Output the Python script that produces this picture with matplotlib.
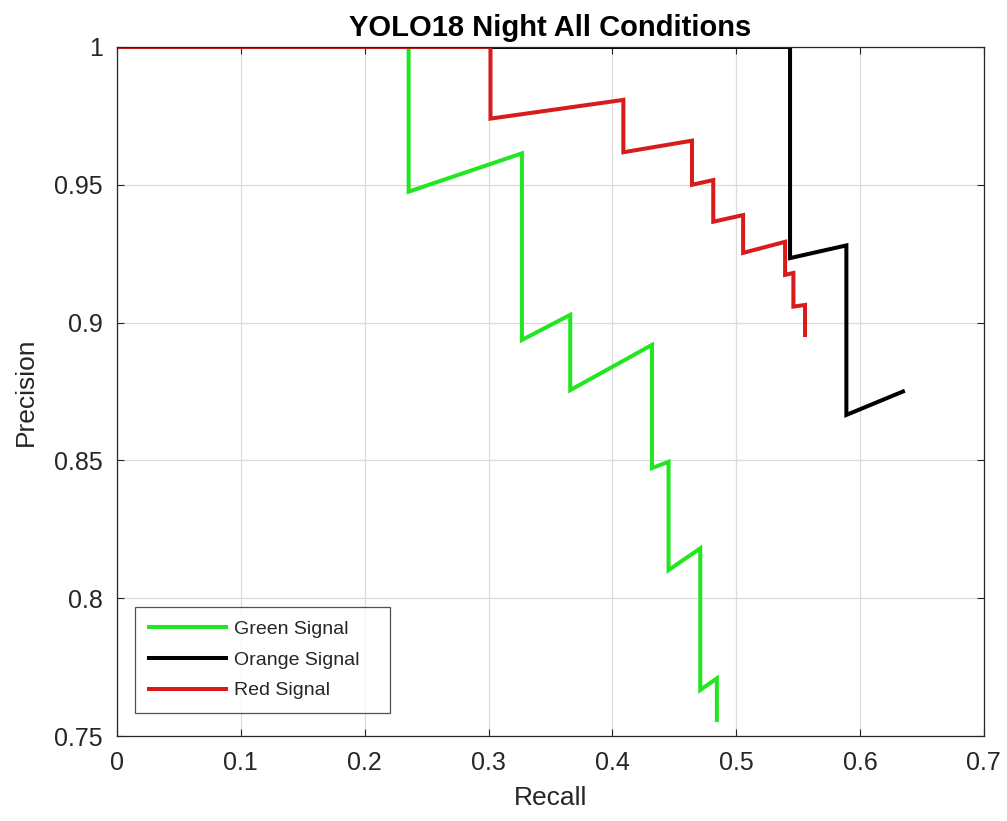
import matplotlib
matplotlib.use("Agg")
import matplotlib.pyplot as plt

# Data (recall, precision)
green_recall = [0.0, 0.2355, 0.2355, 0.327, 0.327, 0.366, 0.366, 0.432, 0.432, 0.4454, 0.4454, 0.471, 0.471, 0.4844, 0.4844]
green_precision = [1.0, 1.0, 0.9475, 0.9614, 0.8937, 0.9028, 0.8755, 0.8919, 0.8472, 0.8495, 0.8102, 0.8181, 0.7667, 0.7709, 0.7558]

orange_recall = [0.0, 0.5435, 0.5435, 0.589, 0.589, 0.6347]
orange_precision = [1.0, 1.0, 0.9234, 0.928, 0.8665, 0.875]

red_recall = [0.0, 0.3016, 0.3016, 0.4089, 0.4089, 0.4643, 0.4643, 0.4815, 0.4815, 0.5056, 0.5056, 0.5395, 0.5395, 0.5462, 0.5462, 0.5556, 0.5556]
red_precision = [1.0, 1.0, 0.974, 0.9808, 0.9618, 0.966, 0.950, 0.9517, 0.9366, 0.939, 0.9253, 0.9293, 0.9173, 0.918, 0.9058, 0.9064, 0.8955]

series_labels = ["Green Signal", "Orange Signal", "Red Signal"]
x_ticks = [0, 0.1, 0.2, 0.3, 0.4, 0.5, 0.6, 0.7]
x_tick_labels = ["0", "0.1", "0.2", "0.3", "0.4", "0.5", "0.6", "0.7"]
y_ticks = [0.75, 0.8, 0.85, 0.9, 0.95, 1.0]
y_tick_labels = ["0.75", "0.8", "0.85", "0.9", "0.95", "1"]

plt.rcParams['font.family'] = ['Liberation Sans', 'DejaVu Sans']

fig = plt.figure(figsize=(10.07, 8.21), dpi=100)
ax = fig.add_axes([0.1162, 0.1035, 0.8608, 0.8393])

tc = '#262626'
ax.plot(green_recall, green_precision, color='#22e622', lw=2.9, label=series_labels[0], solid_joinstyle='miter')
ax.plot(orange_recall, orange_precision, color='black', lw=2.9, label=series_labels[1], solid_joinstyle='miter')
ax.plot(red_recall, red_precision, color='#d81c1c', lw=2.9, label=series_labels[2], solid_joinstyle='miter')

ax.set_xlim(0, 0.7)
ax.set_ylim(0.75, 1.0)
ax.set_xticks(x_ticks)
ax.set_xticklabels(x_tick_labels)
ax.set_yticks(y_ticks)
ax.set_yticklabels(y_tick_labels)
ax.tick_params(direction='in', length=5, width=0.8, colors=tc, labelsize=18, top=True, right=True,
               labeltop=False, labelright=False)
ax.tick_params(axis='x', pad=11)
ax.tick_params(axis='y', pad=10)
ax.grid(True, color='#dcdcdc', lw=0.9)
ax.set_axisbelow(True)
for s in ax.spines.values():
    s.set_color(tc)
    s.set_linewidth(0.9)

ax.set_xlabel("Recall", fontsize=19, color=tc, labelpad=8)
ax.set_ylabel("Precision", fontsize=19, color=tc, labelpad=12)
ax.set_title("YOLO18 Night All Conditions", fontsize=21, fontweight='bold', color='black', pad=8)

leg = ax.legend(loc='lower left', fontsize=14, frameon=True, fancybox=False, handlelength=4.0,
                bbox_to_anchor=(0.0208, 0.0334, 0.294, 0.154), mode='expand', borderaxespad=0.0,
                labelspacing=0.68, handletextpad=0.4, borderpad=0.7)
leg.get_frame().set_edgecolor(tc)
leg.get_frame().set_linewidth(0.9)
for t in leg.get_texts():
    t.set_color(tc)

fig.savefig("out.png", dpi=100)
